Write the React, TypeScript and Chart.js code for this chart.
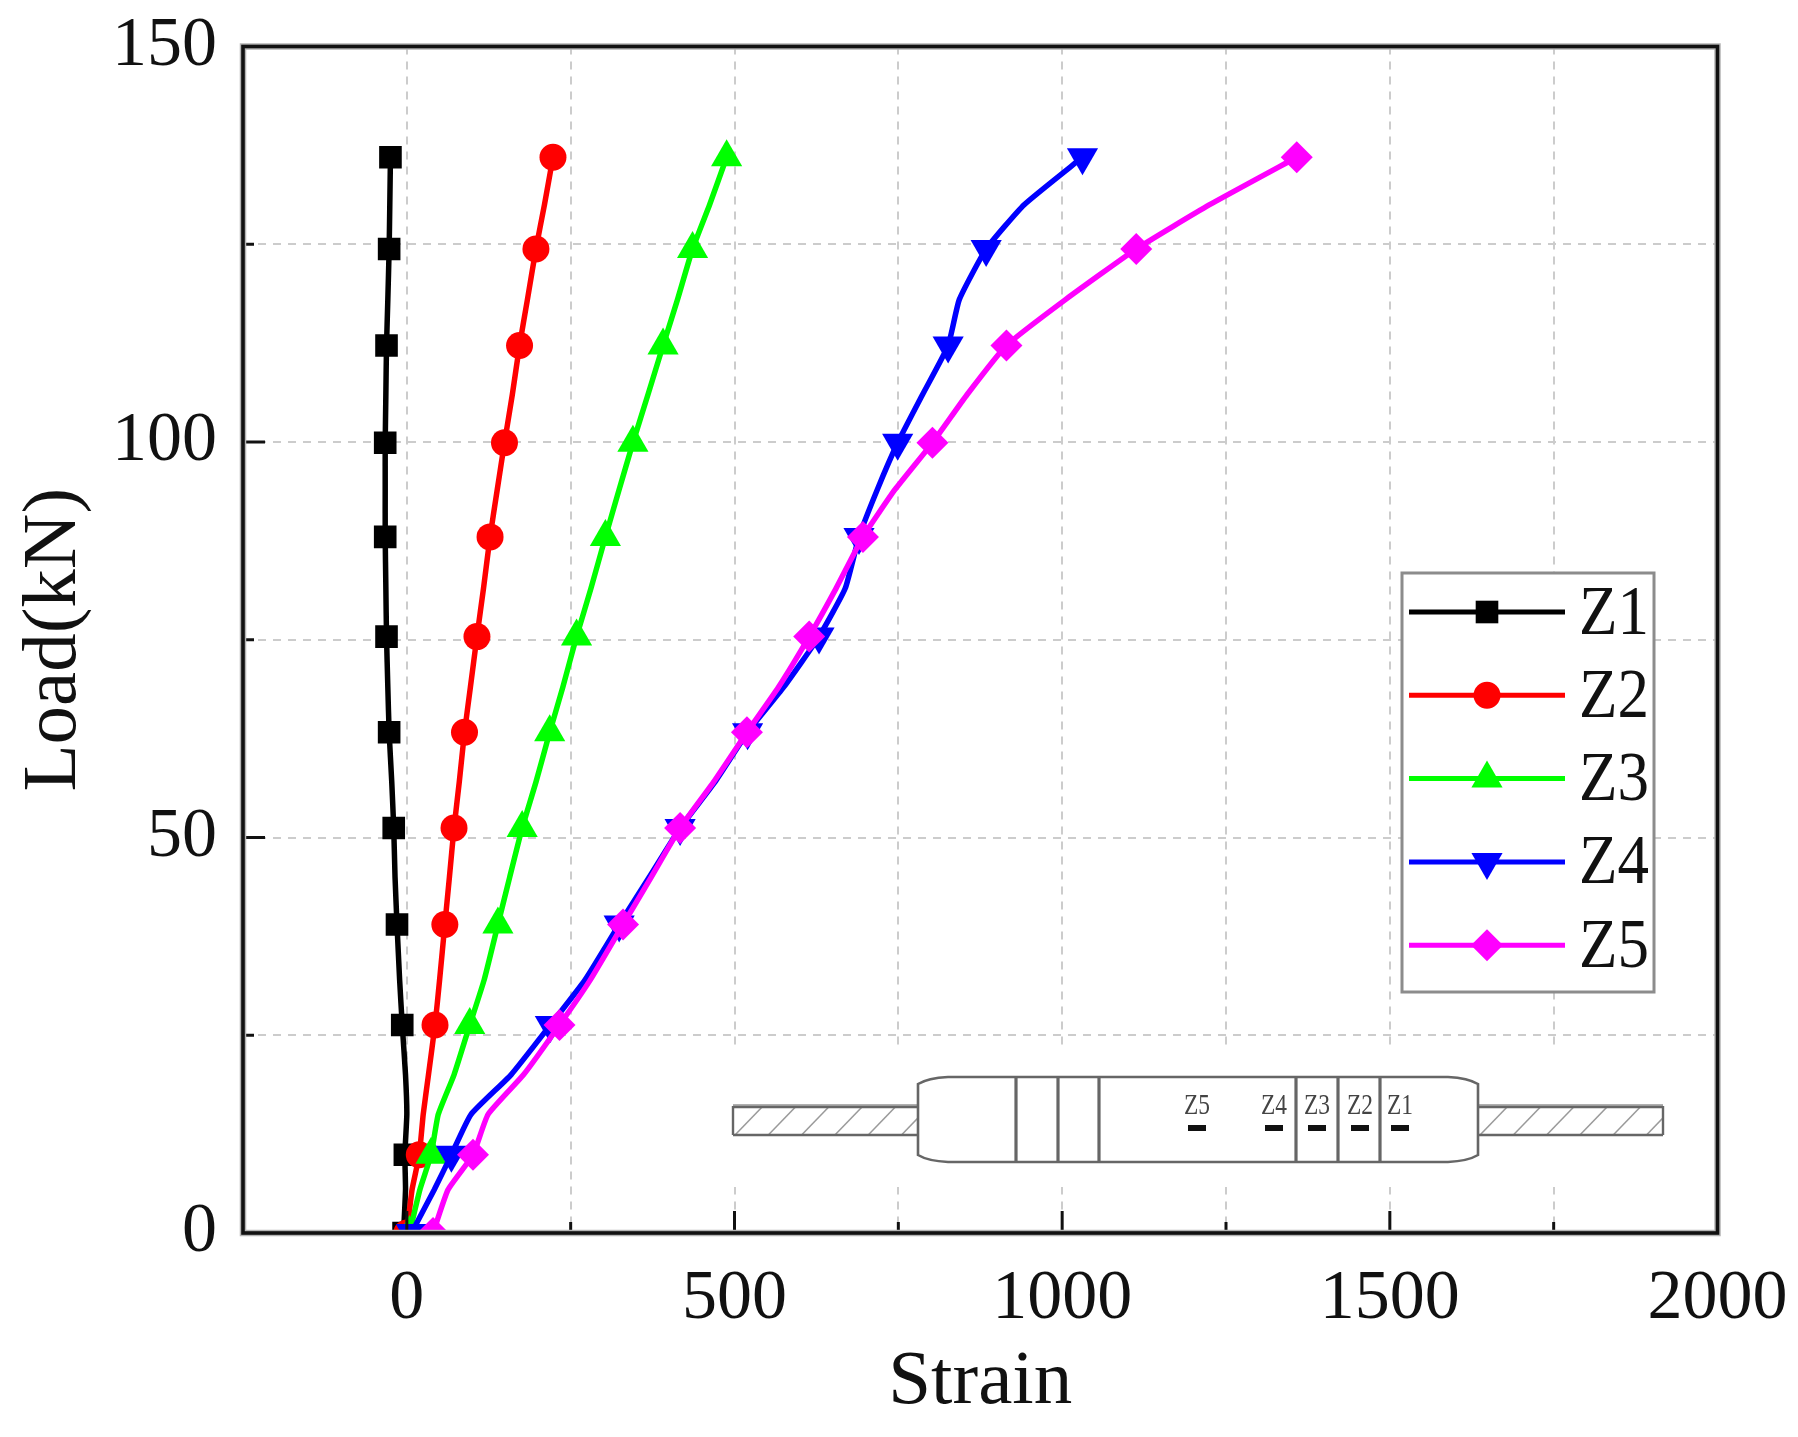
import React, { useEffect, useRef } from "react";
import { Chart, registerables } from "chart.js";
import { drawPoint } from "chart.js/helpers";

Chart.register(...registerables);

const loads = [0, 5.5, 9.9, 15, 20, 26.3, 32, 39, 45, 51.2, 57, 63.3, 69, 75.4, 81.5, 88, 94, 99.9, 106, 112.2, 118, 124.4, 130, 136];
const markerLoads = [0, 9.9, 26.3, 39, 51.2, 63.3, 75.4, 88, 99.9, 112.2, 124.4, 136];
const z1 = [-5, -2, -3, 0, -2, -7, -11, -15, -18, -20, -23, -27, -29, -31, -32, -33, -33, -33, -32, -31, -29, -27, -26, -25];
const z2 = [0, 8, 19, 25, 33, 43, 50, 58, 65, 72, 80, 88, 97, 107, 117, 127, 138, 149, 161, 172, 184, 197, 210, 223];
const z3 = [4, 20, 37, 48, 72, 96, 118, 139, 157, 176, 197, 218, 238, 259, 281, 303, 324, 345, 368, 391, 413, 436, 462, 488];
const z4 = [7, 42, 68, 98, 159, 219, 272, 324, 370, 417, 470, 520, 575, 629, 669, 690, 718, 749, 787, 826, 843, 884, 942, 1031];
const z5 = [40, 63, 101, 124, 178, 233, 280, 330, 373, 417, 468, 519, 567, 614, 655, 696, 745, 802, 855, 915, 1005, 1113, 1225, 1358];
const seriesNames = ["Z1", "Z2", "Z3", "Z4", "Z5"];
const seriesValues = [z1, z2, z3, z4, z5];
const seriesColors = ["#000000", "#ff0000", "#00ff00", "#0000ff", "#ff00ff"];
const seriesStyles = ["rect", "circle", "triangle", "triangle", "rectRot"];
const seriesRadii = [16, 13.5, 18, 18, 16];
const seriesRotation = [0, 0, 0, 180, 0];
const insetLabels = ["Z5", "Z4", "Z3", "Z2", "Z1"];

const SERIF = '"Liberation Serif", serif';
const W = 1798, H = 1437;
const LEFT = 243, RIGHT = 1717.5, TOP = 46.5, BOTTOM = 1233;

const clearPadding = (s: any) => {
  s.paddingTop = 0;
  s.paddingBottom = 0;
  s.paddingLeft = 0;
  s.paddingRight = 0;
};

const framePlugin = {
  id: "frame",
  afterDatasetsDraw(chart: any) {
    const c = chart.ctx;
    const { x, y } = chart.scales;
    c.save();
    // tick marks, pointing inward
    c.strokeStyle = "#111";
    c.lineWidth = 3;
    x.ticks.forEach((t: any) => {
      const px = x.getPixelForValue(t.value);
      const len = t.value % 500 === 0 ? 22 : 11;
      c.beginPath();
      c.moveTo(px, BOTTOM);
      c.lineTo(px, BOTTOM - len);
      c.stroke();
    });
    y.ticks.forEach((t: any) => {
      const py = y.getPixelForValue(t.value);
      const len = t.value % 50 === 0 ? 22 : 11;
      c.beginPath();
      c.moveTo(LEFT, py);
      c.lineTo(LEFT + len, py);
      c.stroke();
    });
    // frame: soft halo then dark core
    c.strokeStyle = "#b4b4b4";
    c.lineWidth = 6.5;
    c.strokeRect(LEFT, TOP, RIGHT - LEFT, BOTTOM - TOP);
    c.strokeStyle = "#111";
    c.lineWidth = 3.6;
    c.strokeRect(LEFT, TOP, RIGHT - LEFT, BOTTOM - TOP);
    c.restore();
  },
};

const insetPlugin = {
  id: "inset",
  afterDatasetsDraw(chart: any) {
    const c = chart.ctx;
    c.save();
    c.fillStyle = "#fff";
    c.fillRect(722, 1046, 958, 141);

    const rod = (x0: number, x1: number) => {
      c.save();
      c.beginPath();
      c.rect(x0, 1106, x1 - x0, 29);
      c.clip();
      c.strokeStyle = "#9a9a9a";
      c.lineWidth = 1.5;
      for (let xx = x0 + 2; xx < x1 + 30; xx += 33.3) {
        c.beginPath();
        c.moveTo(xx, 1135);
        c.lineTo(xx + 30, 1104);
        c.stroke();
      }
      c.restore();
      c.strokeStyle = "#b0b0b0";
      c.lineWidth = 4;
      c.beginPath();
      c.moveTo(x0, 1106);
      c.lineTo(x1, 1106);
      c.stroke();
      c.strokeStyle = "#666";
      c.lineWidth = 2.4;
      c.beginPath();
      c.moveTo(x0, 1107);
      c.lineTo(x1, 1107);
      c.moveTo(x0, 1135);
      c.lineTo(x1, 1135);
      c.stroke();
    };
    rod(733, 918);
    rod(1478, 1663);
    c.strokeStyle = "#666";
    c.lineWidth = 2.4;
    c.beginPath();
    c.moveTo(733, 1106);
    c.lineTo(733, 1135);
    c.moveTo(1663, 1106);
    c.lineTo(1663, 1135);
    c.stroke();

    // body
    c.fillStyle = "#fff";
    c.strokeStyle = "#666";
    c.lineWidth = 2.6;
    c.beginPath();
    c.moveTo(918, 1084);
    c.quadraticCurveTo(928, 1078, 948, 1077);
    c.lineTo(1448, 1077);
    c.quadraticCurveTo(1468, 1078, 1478, 1084);
    c.lineTo(1478, 1155);
    c.quadraticCurveTo(1468, 1161, 1448, 1162);
    c.lineTo(948, 1162);
    c.quadraticCurveTo(928, 1161, 918, 1155);
    c.closePath();
    c.fill();
    c.stroke();
    c.lineWidth = 3.2;
    [1016, 1058, 1099, 1296, 1338, 1380].forEach((px) => {
      c.beginPath();
      c.moveTo(px, 1077);
      c.lineTo(px, 1162);
      c.stroke();
    });

    // strain gauges and their labels
    const gaugeX = [1197, 1274, 1317, 1360, 1400];
    gaugeX.forEach((px, i) => {
      c.fillStyle = "#111";
      c.fillRect(px - 9, 1125, 18, 6);
      c.save();
      c.translate(px, 1106);
      c.scale(0.78, 1);
      c.fillStyle = "#444";
      c.font = `30px ${SERIF}`;
      c.textAlign = "center";
      c.textBaseline = "middle";
      c.fillText(insetLabels[i], 0, 0);
      c.restore();
    });
    c.restore();
  },
};

const legendPlugin = {
  id: "lineLegend",
  afterDatasetsDraw(chart: any) {
    const c = chart.ctx;
    c.save();
    c.fillStyle = "#fff";
    c.fillRect(1402, 573, 252, 419);
    c.strokeStyle = "#8c8c8c";
    c.lineWidth = 3;
    c.strokeRect(1402, 573, 252, 419);
    chart.data.datasets.forEach((ds: any, i: number) => {
      const ly = 612 + i * 83.3;
      c.strokeStyle = ds.borderColor;
      c.lineWidth = 5;
      c.beginPath();
      c.moveTo(1409, ly);
      c.lineTo(1565, ly);
      c.stroke();
      c.fillStyle = ds.backgroundColor;
      drawPoint(c, { pointStyle: seriesStyles[i], radius: seriesRadii[i], rotation: seriesRotation[i], borderWidth: 0 }, 1487, ly);
      c.save();
      c.translate(1579, ly + 3);
      c.scale(1, 1.12);
      c.fillStyle = "#111";
      c.font = `63px ${SERIF}`;
      c.textAlign = "left";
      c.textBaseline = "middle";
      c.fillText(ds.label, 0, 0);
      c.restore();
    });
    c.restore();
  },
};

export default function App() {
  const ref = useRef<HTMLCanvasElement | null>(null);
  useEffect(() => {
    const chart = new Chart(ref.current as any, {
      type: "scatter",
      data: {
        datasets: seriesNames.map((name, i) => ({
          label: name,
          data: seriesValues[i].map((v, k) => ({ x: v, y: loads[k] })),
          showLine: true,
          tension: 0.15,
          borderColor: seriesColors[i],
          backgroundColor: seriesColors[i],
          borderWidth: 5.5,
          pointStyle: seriesStyles[i] as any,
          pointRotation: seriesRotation[i],
          pointBorderWidth: 0,
          pointRadius: (ctx: any) => (markerLoads.includes(ctx.raw?.y) ? seriesRadii[i] : 0),
          order: seriesNames.length - i,
        })),
      },
      options: {
        animation: false,
        responsive: false,
        devicePixelRatio: 1,
        layout: { padding: { left: 0, right: W - RIGHT, top: TOP, bottom: 0 } },
        plugins: { legend: { display: false }, tooltip: { enabled: false } },
        scales: {
          x: {
            type: "linear",
            min: -250,
            max: 2000,
            afterFit: (s: any) => { s.height = H - BOTTOM; clearPadding(s); },
            ticks: {
              stepSize: 250,
              autoSkip: false,
              maxRotation: 0,
              padding: 25,
              color: "#111",
              font: { family: SERIF, size: 70 },
              callback: (v: any) => (v >= 0 && v % 500 === 0 ? String(v) : ""),
            },
            grid: { color: "#cccccc", lineWidth: 2, drawTicks: false },
            border: { display: false, dash: [8, 7] },
            title: {
              display: true,
              text: "Strain",
              color: "#111",
              font: { family: SERIF, size: 77 },
              padding: { top: 0, bottom: 8 },
            },
          } as any,
          y: {
            type: "linear",
            min: 0,
            max: 150,
            afterFit: (s: any) => { s.width = LEFT; clearPadding(s); },
            ticks: {
              stepSize: 25,
              autoSkip: false,
              padding: 26,
              color: "#111",
              font: { family: SERIF, size: 70 },
              callback: (v: any) => (v % 50 === 0 ? String(v) : ""),
            },
            grid: { color: "#cccccc", lineWidth: 2, drawTicks: false },
            border: { display: false, dash: [8, 7] },
            title: {
              display: true,
              text: "Load(kN)",
              color: "#111",
              font: { family: SERIF, size: 77 },
              padding: { top: 9, bottom: 0 },
            },
          } as any,
        },
      },
      plugins: [framePlugin, insetPlugin, legendPlugin],
    } as any);
    return () => chart.destroy();
  }, []);
  return (
    <canvas
      ref={ref}
      width={W}
      height={H}
      style={{ position: "absolute", left: 0, top: 0, width: W, height: H, display: "block" }}
    />
  );
}
